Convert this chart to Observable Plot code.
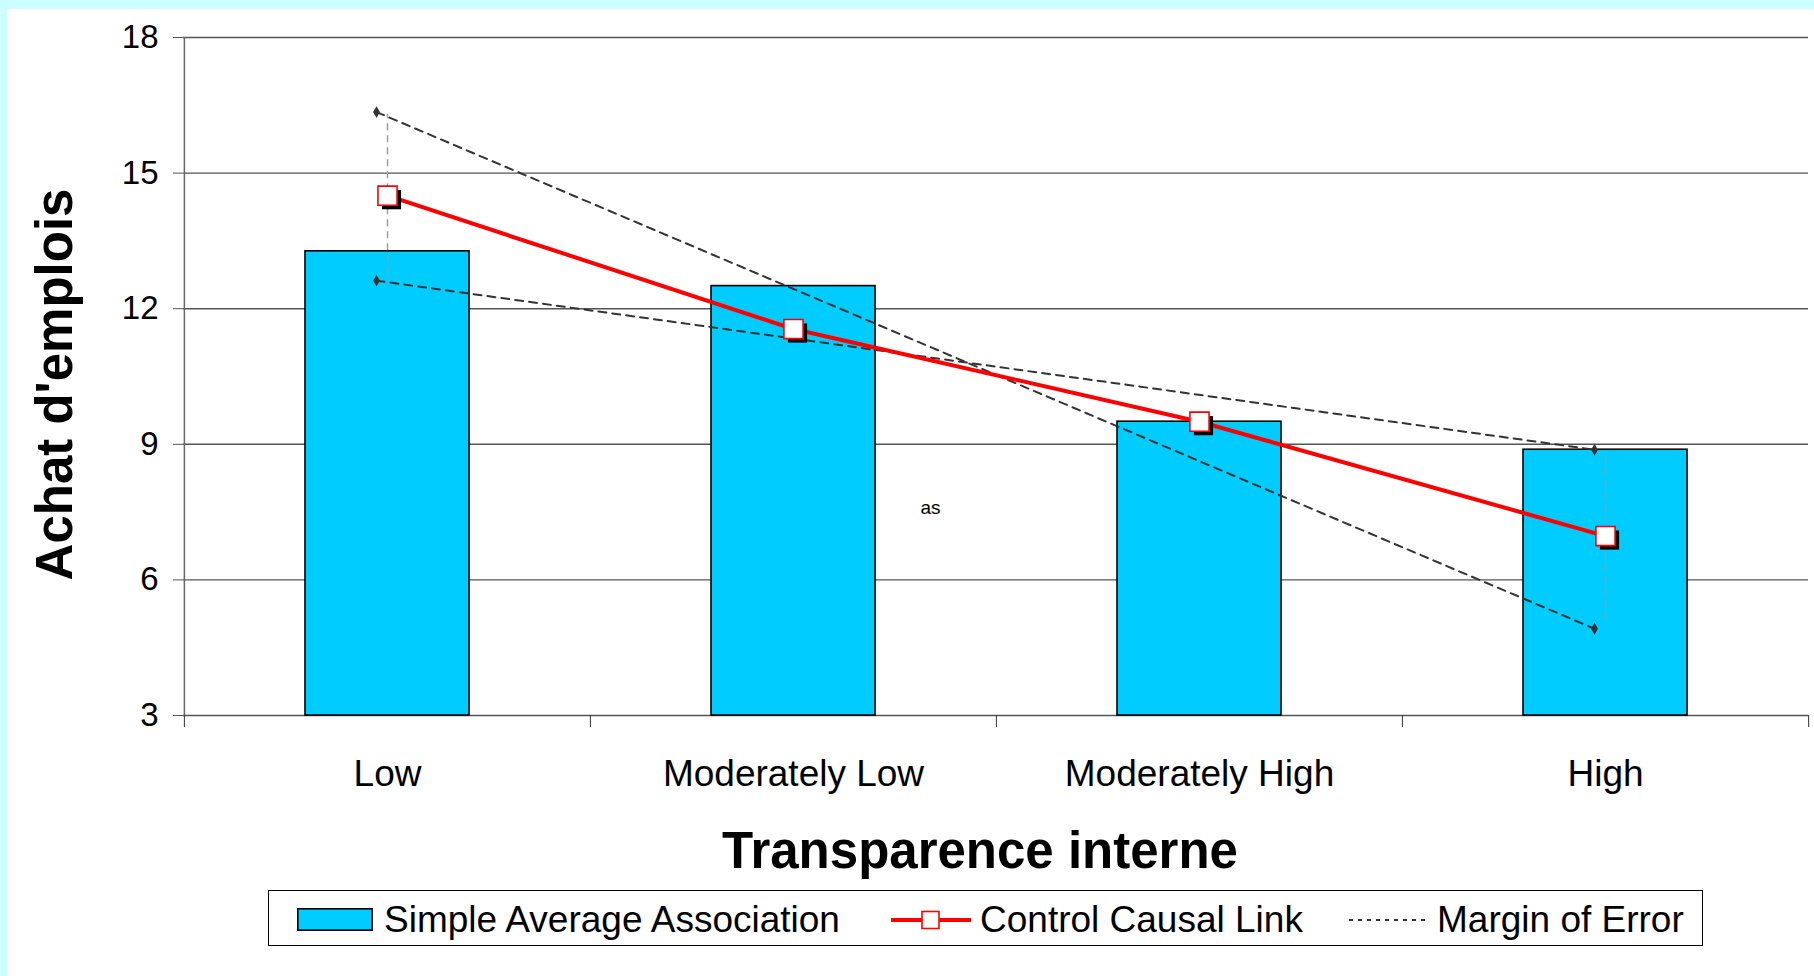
<!DOCTYPE html>
<html><head><meta charset="utf-8">
<script src="https://cdn.jsdelivr.net/npm/d3@7"></script>
<script src="https://cdn.jsdelivr.net/npm/@observablehq/plot@0.6"></script>
<style>
html,body{margin:0;padding:0;background:#ccffff;width:1814px;height:976px;overflow:hidden;font-family:"Liberation Sans",Arial,sans-serif;}
#panel{position:absolute;left:7px;top:9px;width:1807px;height:967px;background:#fff;}
#chart{position:absolute;left:0;top:0;}
#chart svg{overflow:visible;background:transparent;}
#legend{position:absolute;left:261px;top:881px;width:1435px;height:56px;border:1.5px solid #000;box-sizing:border-box;background:#fff;}
#legend .t{position:absolute;top:10px;font-size:37px;line-height:37px;color:#000;white-space:nowrap;}
#legend svg{position:absolute;overflow:visible;}
</style>
</head><body>
<div id="panel">
  <div id="chart"></div>
  <div id="legend"></div>
</div>
<script>
// ---- data ----
const categories = ["Low", "Moderately Low", "Moderately High", "High"];
const barValues = [13.27, 12.5, 9.5, 8.88];
const causalValues = [14.5, 11.55, 9.5, 6.97];
const moeCategories = ["Low", "High"];
const moeLineA = [16.35, 4.92];
const moeLineB = [12.62, 8.88];
const errBarTop = [16.3, 8.75];
const errBarBottom = [12.75, 5.12];
const yTicks = [3, 6, 9, 12, 15, 18];
const yLabel = "Achat d'emplois";
const xLabel = "Transparence interne";
const seriesNames = ["Simple Average Association", "Control Causal Link", "Margin of Error"];
const strayText = ["as"];

// ---- tables built from arrays ----
const bars = categories.map((c, i) => ({cat: c, value: barValues[i]}));
const causal = categories.map((c, i) => ({cat: c, value: causalValues[i]}));
const moeA = moeCategories.map((c, i) => ({cat: c, value: moeLineA[i]}));
const moeB = moeCategories.map((c, i) => ({cat: c, value: moeLineB[i]}));
const errBars = moeCategories.map((c, i) => ({cat: c, top: errBarTop[i], bottom: errBarBottom[i]}));

const W = 1807, H = 880, mL = 176, mR = 6, mT = 28, mB = 174;
const bw = (W - mL - mR) / categories.length;
const font = "Liberation Sans, Arial, sans-serif";

const chart = Plot.plot({
  width: W, height: H,
  marginLeft: mL, marginRight: mR, marginTop: mT, marginBottom: mB,
  style: {fontFamily: font, background: "transparent", color: "#000"},
  x: {type: "band", domain: categories, paddingInner: 0, paddingOuter: 0},
  y: {domain: [3, 18]},
  marks: [
    Plot.ruleY(yTicks, {stroke: "#555", strokeWidth: 1.4}),
    Plot.ruleX([categories[0]], {x: d => d, dx: -bw / 2, y1: 3, y2: 18, stroke: "#666", strokeWidth: 1.5}),
    Plot.barY(bars, {x: "cat", y1: 3, y2: "value", fill: "#00ccff", stroke: "#000", strokeWidth: 1.6, insetLeft: 121, insetRight: 121}),
    Plot.axisY({ticks: yTicks, tickSize: 10, tickPadding: 15, fontSize: 33, stroke: "#555", fill: "#000", label: null}),
    Plot.axisX({ticks: categories, tickSize: 12, dx: -bw / 2, tickFormat: () => "", stroke: "#333", label: null}),
    Plot.axisX({ticks: [categories[categories.length - 1]], tickSize: 12, dx: bw / 2, tickFormat: () => "", stroke: "#333", label: null}),
    Plot.axisX({ticks: categories, tickSize: 0, tickPadding: 44, fontSize: 37, fill: "#000", label: null}),
    Plot.ruleX(errBars, {x: "cat", y1: "bottom", y2: "top", stroke: "#999", strokeWidth: 1.4, strokeDasharray: "7,5"}),
    Plot.line(moeA, {x: "cat", y: "value", dx: -11, stroke: "#333", strokeWidth: 2, strokeDasharray: "8,6"}),
    Plot.line(moeB, {x: "cat", y: "value", dx: -11, stroke: "#333", strokeWidth: 2, strokeDasharray: "8,6"}),
    Plot.dot(moeA.concat(moeB), {x: "cat", y: "value", dx: -11, symbol: "diamond", r: 3.6, fill: "#333", stroke: "none"}),
    Plot.line(causal, {x: "cat", y: "value", stroke: "#ff0000", strokeWidth: 4}),
    Plot.dot(causal, {x: "cat", y: "value", symbol: "square", r: 10.8, fill: "#000", stroke: "none", dx: 4, dy: 4}),
    Plot.dot(causal, {x: "cat", y: "value", symbol: "square", r: 10.8, fill: "#fff", stroke: "#ff0000", strokeWidth: 1.6}),
    Plot.text(strayText, {x: () => categories[1], y: () => 7.6, text: d => d, dx: 137, fontSize: 19, fill: "#000"}),
    Plot.text([yLabel], {frameAnchor: "left", text: d => d, rotate: -90, dx: -128, dy: 8, fontSize: 51, fontWeight: "bold", textAnchor: "middle", lineAnchor: "middle", fill: "#000"}),
    Plot.text([xLabel], {frameAnchor: "bottom", text: d => d, dx: -16, dy: 152, fontSize: 51, fontWeight: "bold", lineAnchor: "bottom", fill: "#000"})
  ]
});
document.getElementById("chart").appendChild(chart);

// ---- legend ----
const lg = document.getElementById("legend");
lg.innerHTML = `
  <svg style="left:28px;top:17px" width="76" height="23"><rect x="0.8" y="0.8" width="74.4" height="21.4" fill="#00ccff" stroke="#000" stroke-width="1.6"/></svg>
  <span class="t" style="left:115px">${seriesNames[0]}</span>
  <svg style="left:622px;top:18px" width="80" height="22"><line x1="0" x2="80" y1="11" y2="11" stroke="#ff0000" stroke-width="4"/><rect x="31" y="2.5" width="17" height="17" fill="#fff" stroke="#ff0000" stroke-width="1.6"/></svg>
  <span class="t" style="left:711px">${seriesNames[1]}</span>
  <svg style="left:1080px;top:24px" width="78" height="10"><line x1="0" x2="78" y1="5" y2="5" stroke="#333" stroke-width="2" stroke-dasharray="4,5"/></svg>
  <span class="t" style="left:1168px">${seriesNames[2]}</span>
`;
</script>
</body></html>
